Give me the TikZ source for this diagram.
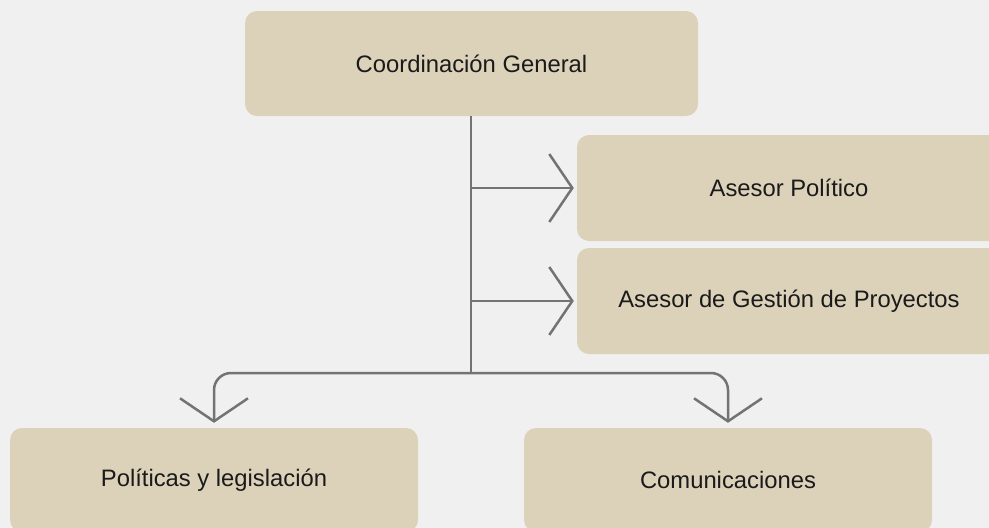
\documentclass[tikz,border=0pt]{standalone}
\usepackage{fontspec}
\setmainfont{Liberation Sans}
\usetikzlibrary{arrows.meta}
\definecolor{bg}{HTML}{F0F0F0}
\definecolor{boxfill}{HTML}{DCD2BA}
\definecolor{linec}{HTML}{737373}
\definecolor{txt}{HTML}{1A1A1A}
\begin{document}
\begin{tikzpicture}[x=1pt,y=-1pt,
  box/.style={fill=boxfill, rounded corners=12pt, inner sep=0pt, text=txt, font=\fontsize{23.8}{28}\selectfont},
  conn/.style={draw=linec, line width=2.5pt},
  chev/.style={-{Straight Barb[length=23pt,width=68pt,line width=2.5pt]}}]
\useasboundingbox (0,0) rectangle (989,528);
\clip (0,0) rectangle (989,528);
\fill[bg] (0,0) rectangle (989,528);
\node[box, minimum width=453pt, minimum height=105pt] (cg) at (471.5,63.5) {Coordinación General};
\node[box, minimum width=424pt, minimum height=106pt] (ap) at (789,188) {Asesor Político};
\node[box, minimum width=424pt, minimum height=106pt] (ag) at (789,301) {Asesor de Gestión de Proyectos};
\node[box, minimum width=408pt, minimum height=104pt] (pl) at (214,480) {Políticas y legislación};
\node[box, minimum width=408pt, minimum height=104pt] (co) at (728,480) {Comunicaciones};
\coordinate (t1) at (471,188);
\coordinate (t2) at (471,301);
\coordinate (j) at (471,373);
\draw[conn] (cg.south -| j) -- (j);
\draw[conn, chev, shorten >=3pt] (t1) -- (ap.west);
\draw[conn, chev, shorten >=3pt] (t2) -- (ag.west);
\draw[conn, chev, rounded corners=17pt, shorten >=5pt] (j) -| (pl.north);
\draw[conn, chev, rounded corners=17pt, shorten >=5pt] (j) -| (co.north);
\end{tikzpicture}
\end{document}
